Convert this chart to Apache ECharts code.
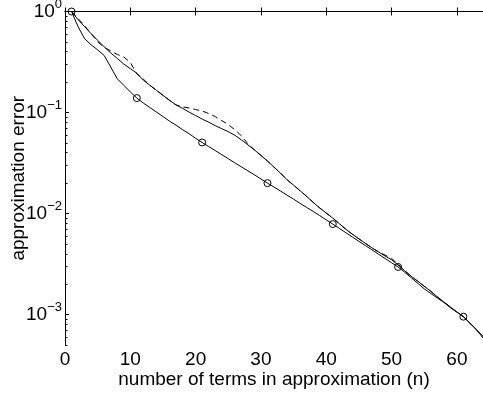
<!DOCTYPE html>
<html>
<head>
<meta charset="utf-8">
<script src="https://cdn.jsdelivr.net/npm/echarts@6/dist/echarts.min.js"></script>
<style>
	html, body {margin: 0; padding: 0; background: #fff;}
	#chart {width: 483px; height: 396px;}
</style>
</head>
<body>
<div id="chart"></div>
<script>
// number of terms n
const terms = [
	1, 2, 3, 4, 5, 6, 7, 8, 9, 10, 11, 12, 13, 14, 15, 16,
	17, 18, 19, 20, 21, 22, 23, 24, 25, 26, 27, 28, 29, 30, 31, 32,
	33, 34, 35, 36, 37, 38, 39, 40, 41, 42, 43, 44, 45, 46, 47, 48,
	49, 50, 51, 52, 53, 54, 55, 56, 57, 58, 59, 60, 61, 62, 63, 64
];
// lower solid curve (circles every 10 terms)
const errMarked = [
	1.0, 0.708, 0.537, 0.468, 0.417, 0.367, 0.282, 0.216, 0.186, 0.160, 0.139, 0.124, 0.112, 0.101, 0.0912, 0.0822,
	0.0750, 0.0676, 0.0617, 0.0556, 0.0505, 0.0460, 0.0420, 0.0383, 0.0349, 0.0318, 0.0290, 0.0265, 0.0242, 0.0220, 0.0200, 0.0183,
	0.0167, 0.0152, 0.0139, 0.0126, 0.0115, 0.0105, 0.00955, 0.00867, 0.00787, 0.00714, 0.00646, 0.00586, 0.00531, 0.00482, 0.00437, 0.00396,
	0.00359, 0.00326, 0.00296, 0.00263, 0.00232, 0.00204, 0.00180, 0.00162, 0.00146, 0.00132, 0.00117, 0.00106, 0.000953, 0.000822, 0.000708, 0.000610
];
// upper solid curve
const errSolid = [
	1.0, 0.832, 0.708, 0.603, 0.519, 0.447, 0.389, 0.343, 0.302, 0.272, 0.245, 0.209, 0.186, 0.166, 0.148, 0.132,
	0.119, 0.110, 0.101, 0.0933, 0.0861, 0.0804, 0.0741, 0.0692, 0.0646, 0.0596, 0.0537, 0.0479, 0.0427, 0.0376, 0.0331, 0.0288,
	0.0251, 0.0216, 0.0191, 0.0168, 0.0148, 0.0129, 0.01135, 0.01012, 0.00902, 0.00794, 0.00700, 0.00624, 0.00562, 0.00507, 0.00457, 0.00417,
	0.00380, 0.00349, 0.00309, 0.00272, 0.00240, 0.00214, 0.00191, 0.00170, 0.00150, 0.00133, 0.00119, 0.00106, 0.000955, 0.000822, 0.000708, 0.000589
];
// dashed curve
const errDashed = [
	1.0, 0.851, 0.724, 0.603, 0.501, 0.442, 0.407, 0.376, 0.355, 0.313, 0.240, 0.214, 0.186, 0.166, 0.148, 0.132,
	0.119, 0.1135, 0.111, 0.107, 0.1035, 0.0977, 0.0912, 0.0832, 0.0759, 0.0676, 0.0589, 0.0490, 0.0427, 0.0376, 0.0331, 0.0288,
	0.0251, 0.0216, 0.0191, 0.0168, 0.0148, 0.0129, 0.01135, 0.01012, 0.00902, 0.00794, 0.00700, 0.00624, 0.00562, 0.00507, 0.00457, 0.00417,
	0.00389, 0.00359, 0.00316, 0.00272, 0.00240, 0.00214, 0.00191, 0.00170, 0.00150, 0.00133, 0.00119, 0.00106, 0.000955, 0.000822, 0.000708, 0.000589
];
const markedTerms = [1, 11, 21, 31, 41, 51, 61];
const yMinorTicks = [
	0.0005, 0.0006, 0.0007, 0.0008, 0.0009,
	0.002, 0.003, 0.004, 0.005, 0.006, 0.007, 0.008, 0.009,
	0.02, 0.03, 0.04, 0.05, 0.06, 0.07, 0.08, 0.09,
	0.2, 0.3, 0.4, 0.5, 0.6, 0.7, 0.8, 0.9
];

const font = 'Liberation Sans, Arial, sans-serif';
const yMin = 0.0005;
const yMax = 1;

const chart = echarts.init(document.getElementById('chart'));

const xBase = {
	type: 'value',
	min: 0,
	max: 64,
	interval: 10,
	axisLine: {lineStyle: {color: '#000', width: 1}},
	axisTick: {inside: true, length: 4, lineStyle: {color: '#000'}},
	splitLine: {show: false}
};

chart.setOption({
	animation: false,
	grid: {left: 65, right: 0, top: 11.5, bottom: 51, containLabel: false, outerBoundsMode: 'none'},
	xAxis: [
		{
			...xBase,
			position: 'bottom',
			name: 'number of terms in approximation (n)',
			nameLocation: 'middle',
			nameGap: 25,
			nameMoveOverlap: false,
			nameTextStyle: {fontFamily: font, fontSize: 19, color: '#000'},
			axisLabel: {
				fontFamily: font, fontSize: 19, color: '#000', margin: 5,
				showMaxLabel: false
			}
		},
		{
			...xBase,
			position: 'top',
			axisLabel: {show: false}
		}
	],
	yAxis: [
		{
			type: 'log',
			logBase: 10,
			min: yMin,
			max: yMax,
			position: 'left',
			name: 'approximation error',
			nameLocation: 'middle',
			nameGap: 37,
			nameMoveOverlap: false,
			nameTextStyle: {fontFamily: font, fontSize: 19, color: '#000'},
			axisLine: {show: true, lineStyle: {color: '#000', width: 1}},
			axisTick: {inside: true, length: 4, lineStyle: {color: '#000'}},
			splitLine: {show: false},
			axisLabel: {
				showMinLabel: false,
				margin: 3,
				color: '#000',
				formatter: v => {
					const e = Math.round(Math.log10(v));
					return '{b|10}{s|' + (e < 0 ? '\u2212' + (-e) : e) + '}';
				},
				rich: {
					b: {fontFamily: font, fontSize: 19, lineHeight: 28, color: '#000'},
					s: {fontFamily: font, fontSize: 13, lineHeight: 13, verticalAlign: 'top', color: '#000'}
				}
			}
		},
		{
			// minor log ticks drawn on a log10 value axis
			type: 'value',
			min: Math.log10(yMin),
			max: Math.log10(yMax),
			position: 'left',
			axisLine: {show: false},
			axisLabel: {show: false},
			splitLine: {show: false},
			axisTick: {
				show: true,
				inside: true,
				length: 2.5,
				lineStyle: {color: '#000'},
				customValues: yMinorTicks.map(v => Math.log10(v))
			}
		}
	],
	series: [
		{
			name: 'dashed',
			data: terms.map((n, i) => [n, errDashed[i]]),
			lineStyle: {color: '#000', width: 1, type: [6, 4]},
			symbol: 'none'
		},
		{
			name: 'solid',
			data: terms.map((n, i) => [n, errSolid[i]]),
			lineStyle: {color: '#000', width: 1},
			symbol: 'none'
		},
		{
			name: 'marked',
			data: terms.map((n, i) => [n, errMarked[i]]),
			lineStyle: {color: '#000', width: 1},
			showAllSymbol: true,
			symbol: v => markedTerms.includes(v[0]) ? 'circle' : 'none',
			symbolSize: 7,
			itemStyle: {color: 'none', borderColor: '#000', borderWidth: 1}
		}
	].map(s => ({
		...s,
		type: 'line',
		xAxisIndex: 0,
		yAxisIndex: 0,
		smooth: false,
		silent: true,
		emphasis: {disabled: true}
	}))
});
</script>
</body>
</html>
